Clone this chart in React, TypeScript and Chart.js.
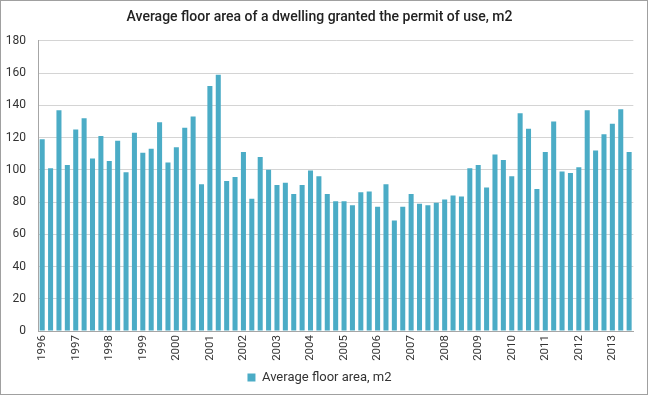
import React, { useEffect, useRef } from "react";
import { Chart, registerables } from "chart.js";

Chart.register(...registerables);

const TITLE = "Average floor area of a dwelling granted the permit of use, m2";
const SERIES_LABEL = "Average floor area, m2";
const YEARS = [
  "1996", "1997", "1998", "1999", "2000", "2001", "2002", "2003", "2004",
  "2005", "2006", "2007", "2008", "2009", "2010", "2011", "2012", "2013",
];
const QUARTERS_IN_LAST_YEAR = 3;

const VALUES = [
  119, 101, 137, 103,
  125, 132, 107, 121,
  105.5, 118, 98.5, 123,
  110.5, 113, 129.5, 104.5,
  114, 126, 133, 91,
  152, 159, 93, 95.5,
  111, 82, 108, 100,
  90.5, 92, 85, 90.5,
  99.5, 96, 85, 80.5,
  80.5, 78, 86, 86.5,
  77, 91, 68.5, 77,
  85, 79, 78, 79.5,
  81.5, 84, 83.5, 101,
  103, 89, 109.5, 106,
  96, 135, 125.5, 88,
  111, 130, 99, 98,
  101.5, 137, 112, 122,
  128.5, 137.5, 111,
];

const LABELS: string[] = [];
YEARS.forEach((y, i) => {
  const n = i === YEARS.length - 1 ? QUARTERS_IN_LAST_YEAR : 4;
  for (let q = 1; q <= n; q++) LABELS.push(q === 1 ? y : "");
});

export default function App() {
  const ref = useRef<HTMLCanvasElement | null>(null);

  useEffect(() => {
    document.body.style.margin = "0";
    const canvas = ref.current;
    if (!canvas) return;
    const chart = new Chart(canvas, {
      type: "bar",
      data: {
        labels: LABELS,
        datasets: [
          {
            label: SERIES_LABEL,
            data: VALUES,
            backgroundColor: "#4BACC6",
            borderWidth: 0,
            categoryPercentage: 1,
            barPercentage: 0.6,
          },
        ],
      },
      options: {
        animation: false,
        responsive: false,
        maintainAspectRatio: false,
        layout: { padding: { left: 0, right: 9, top: 0, bottom: 0 } },
        plugins: {
          title: {
            display: true,
            text: TITLE,
            color: "#222222",
            font: { family: "Roboto", size: 14, weight: 500 },
            padding: { top: 8, bottom: 15 },
          },
          legend: {
            display: true,
            position: "bottom",
            labels: {
              color: "#333333",
              boxWidth: 8,
              boxHeight: 8,
              padding: 7,
              font: { family: "Roboto", size: 13 },
            },
          },
          tooltip: { enabled: false },
        },
        scales: {
          x: {
            offset: true,
            grid: { display: false, drawTicks: false },
            border: { display: true, color: "#a6a6a6", width: 1 },
            ticks: {
              autoSkip: false,
              maxRotation: 90,
              minRotation: 90,
              color: "#333333",
              padding: 4,
              font: { family: "Roboto", size: 11.5 },
            },
            afterFit: (s: any) => {
              s.height = 33;
            },
          },
          y: {
            min: 0,
            max: 180,
            ticks: {
              stepSize: 20,
              color: "#333333",
              padding: 12,
              font: { family: "Roboto", size: 12 },
            },
            grid: { color: "#d4d4d4", drawTicks: false, lineWidth: 1 },
            border: { display: true, color: "#a6a6a6", width: 1 },
            afterFit: (s: any) => {
              s.width = 37;
            },
          },
        },
      },
    });
    return () => chart.destroy();
  }, []);

  return (
    <div
      style={{
        position: "absolute",
        left: 0,
        top: 0,
        width: 648,
        height: 395,
        boxSizing: "border-box",
        border: "1px solid #a0a0a0",
        background: "#fff",
      }}
    >
      <canvas ref={ref} width={646} height={393} style={{ display: "block" }} />
    </div>
  );
}
